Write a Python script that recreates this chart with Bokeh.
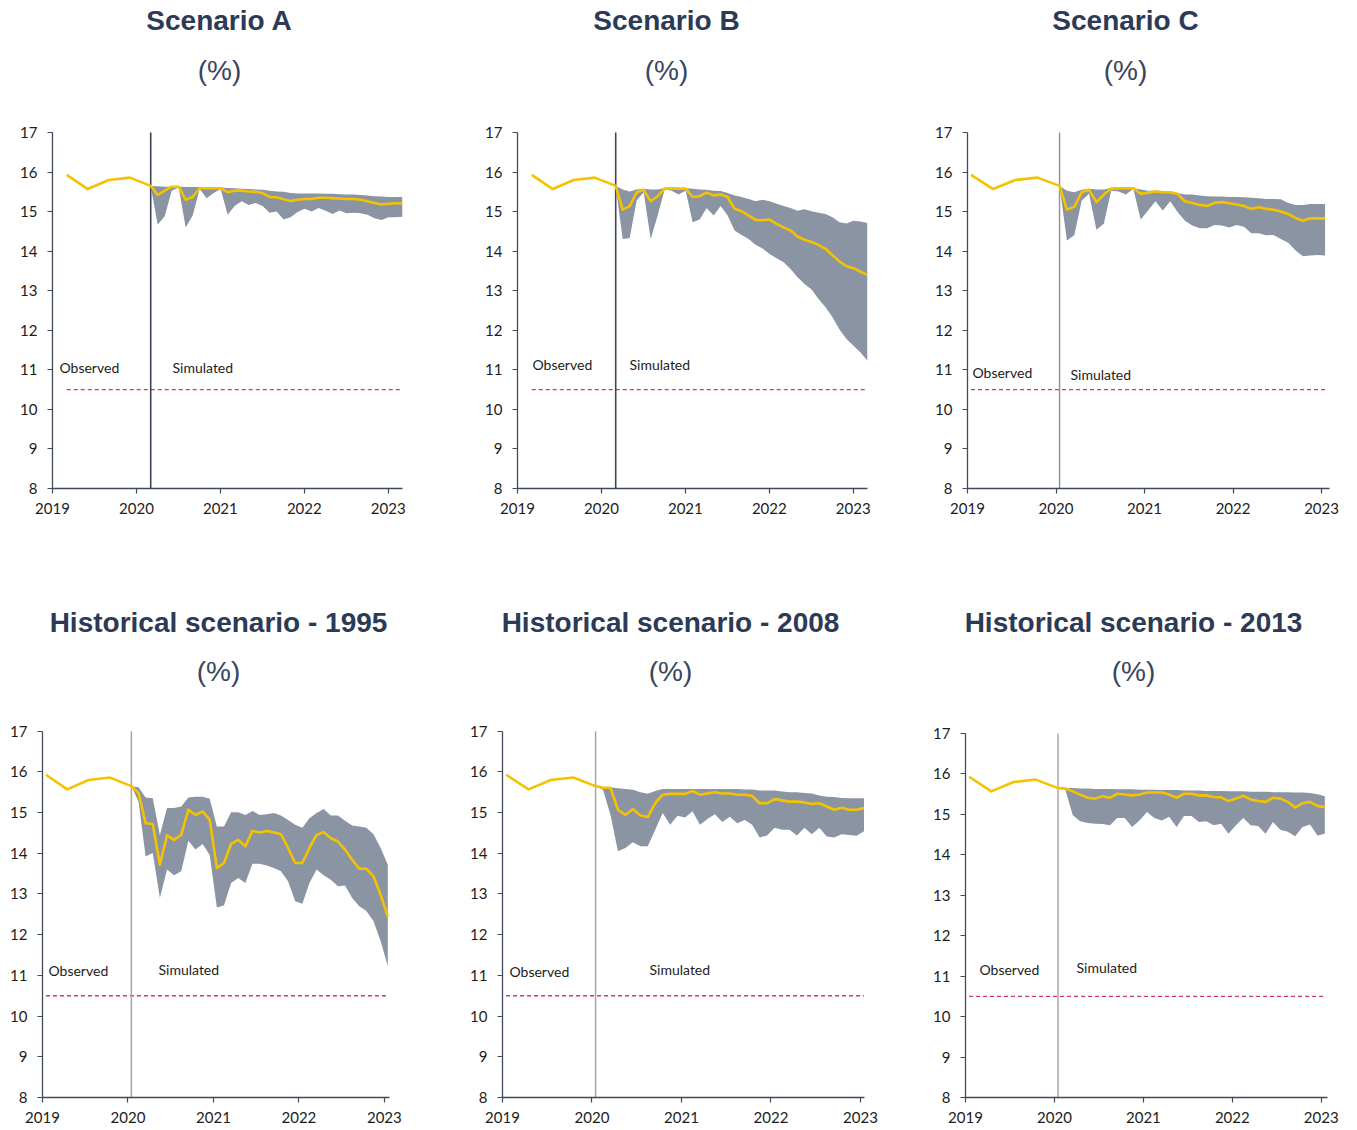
from bokeh.plotting import figure
from bokeh.layouts import column, row
from bokeh.models import Label, FixedTicker, Range1d
from bokeh.embed import file_html
from bokeh.resources import INLINE

# ---------------- data ----------------
year_ticks = [2019, 2020, 2021, 2022, 2023]
y_ticks = [8, 9, 10, 11, 12, 13, 14, 15, 16, 17]
obs_t = [0.0, 0.25, 0.5, 0.75, 1.0]             # years after first observation (quarterly)
observed = [15.93, 15.57, 15.80, 15.86, 15.65]
sim_t = [1.0 + m / 12 for m in range(37)]        # monthly simulation dates
threshold = 10.5

a_mid = [15.65, 15.42, 15.53, 15.63, 15.63, 15.30, 15.37, 15.59, 15.59, 15.59, 15.59, 15.49, 15.53, 15.53, 15.51, 15.50, 15.47, 15.37, 15.36, 15.31, 15.27, 15.30, 15.32, 15.32, 15.35, 15.35, 15.34, 15.33, 15.32, 15.32, 15.30, 15.26, 15.22, 15.18, 15.20, 15.21, 15.21]
a_hi = [15.65, 15.64, 15.63, 15.63, 15.63, 15.62, 15.62, 15.62, 15.62, 15.62, 15.61, 15.60, 15.59, 15.58, 15.57, 15.56, 15.55, 15.53, 15.51, 15.50, 15.47, 15.46, 15.46, 15.46, 15.46, 15.45, 15.45, 15.44, 15.43, 15.43, 15.42, 15.41, 15.39, 15.38, 15.37, 15.37, 15.37]
a_lo = [15.65, 14.67, 14.88, 15.53, 15.61, 14.60, 14.90, 15.57, 15.34, 15.47, 15.57, 14.92, 15.14, 15.26, 15.17, 15.22, 15.14, 14.97, 15.00, 14.80, 14.86, 14.99, 15.07, 15.00, 15.09, 15.02, 14.94, 15.03, 14.96, 14.97, 14.96, 14.92, 14.83, 14.79, 14.86, 14.86, 14.87]

b_mid = [15.65, 15.05, 15.14, 15.49, 15.55, 15.26, 15.39, 15.58, 15.58, 15.58, 15.58, 15.37, 15.39, 15.48, 15.41, 15.43, 15.37, 15.07, 15.01, 14.90, 14.79, 14.78, 14.80, 14.69, 14.60, 14.52, 14.37, 14.29, 14.23, 14.16, 14.06, 13.90, 13.74, 13.62, 13.57, 13.48, 13.40]
b_hi = [15.65, 15.56, 15.51, 15.56, 15.58, 15.56, 15.56, 15.60, 15.61, 15.60, 15.59, 15.58, 15.56, 15.55, 15.53, 15.52, 15.47, 15.41, 15.37, 15.32, 15.26, 15.30, 15.26, 15.20, 15.14, 15.09, 15.02, 15.06, 15.01, 14.97, 14.94, 14.86, 14.73, 14.70, 14.77, 14.75, 14.71]
b_lo = [15.65, 14.31, 14.33, 15.28, 15.49, 14.31, 14.90, 15.56, 15.53, 15.43, 15.53, 14.73, 14.80, 15.09, 14.90, 15.14, 14.90, 14.52, 14.41, 14.31, 14.16, 14.07, 13.93, 13.82, 13.72, 13.55, 13.34, 13.17, 13.03, 12.79, 12.58, 12.33, 12.02, 11.78, 11.61, 11.44, 11.23]

c_mid = [15.65, 15.05, 15.12, 15.49, 15.55, 15.24, 15.43, 15.58, 15.59, 15.59, 15.59, 15.45, 15.48, 15.51, 15.49, 15.49, 15.45, 15.26, 15.22, 15.17, 15.14, 15.22, 15.24, 15.21, 15.18, 15.14, 15.07, 15.11, 15.07, 15.05, 15.00, 14.94, 14.84, 14.77, 14.83, 14.83, 14.83]
c_hi = [15.65, 15.53, 15.49, 15.55, 15.58, 15.56, 15.56, 15.60, 15.61, 15.61, 15.60, 15.56, 15.53, 15.53, 15.52, 15.51, 15.47, 15.43, 15.43, 15.41, 15.39, 15.38, 15.38, 15.37, 15.37, 15.36, 15.35, 15.34, 15.32, 15.32, 15.31, 15.22, 15.17, 15.17, 15.19, 15.19, 15.19]
c_lo = [15.65, 14.27, 14.40, 15.28, 15.45, 14.54, 14.69, 15.53, 15.51, 15.43, 15.58, 14.80, 15.03, 15.26, 15.03, 15.26, 14.99, 14.77, 14.65, 14.58, 14.58, 14.66, 14.65, 14.60, 14.66, 14.62, 14.45, 14.45, 14.40, 14.41, 14.31, 14.21, 14.02, 13.87, 13.89, 13.90, 13.89]

d_mid = [15.65, 15.48, 14.74, 14.72, 13.72, 14.44, 14.33, 14.45, 15.07, 14.94, 15.03, 14.82, 13.64, 13.76, 14.23, 14.33, 14.17, 14.55, 14.51, 14.55, 14.51, 14.47, 14.13, 13.76, 13.76, 14.13, 14.45, 14.52, 14.37, 14.29, 14.09, 13.84, 13.62, 13.62, 13.43, 12.98, 12.45]
d_hi = [15.65, 15.62, 15.37, 15.35, 14.45, 15.11, 15.11, 15.15, 15.37, 15.39, 15.39, 15.34, 14.66, 14.66, 15.01, 15.01, 14.94, 15.04, 14.94, 14.96, 14.99, 14.93, 14.82, 14.70, 14.63, 14.86, 14.99, 15.09, 14.93, 14.93, 14.80, 14.68, 14.66, 14.63, 14.47, 14.13, 13.72]
d_lo = [15.65, 15.27, 13.92, 14.01, 12.90, 13.60, 13.46, 13.56, 14.31, 14.09, 14.23, 13.96, 12.67, 12.72, 13.27, 13.39, 13.27, 13.74, 13.74, 13.70, 13.64, 13.56, 13.31, 12.82, 12.76, 13.27, 13.60, 13.46, 13.35, 13.19, 13.21, 12.90, 12.70, 12.58, 12.33, 11.84, 11.23]

e_mid = [15.65, 15.61, 15.61, 15.07, 14.94, 15.09, 14.93, 14.89, 15.23, 15.44, 15.46, 15.46, 15.46, 15.53, 15.44, 15.47, 15.50, 15.47, 15.47, 15.44, 15.44, 15.41, 15.23, 15.23, 15.33, 15.30, 15.27, 15.27, 15.25, 15.21, 15.23, 15.15, 15.07, 15.12, 15.07, 15.07, 15.11]
e_hi = [15.65, 15.63, 15.62, 15.60, 15.58, 15.56, 15.50, 15.46, 15.53, 15.58, 15.58, 15.58, 15.58, 15.58, 15.58, 15.58, 15.58, 15.58, 15.58, 15.58, 15.57, 15.57, 15.54, 15.54, 15.54, 15.52, 15.50, 15.50, 15.48, 15.47, 15.42, 15.39, 15.38, 15.36, 15.35, 15.35, 15.35]
e_lo = [15.65, 15.56, 14.94, 14.05, 14.13, 14.27, 14.17, 14.17, 14.58, 14.99, 14.70, 14.92, 14.88, 15.03, 14.70, 14.84, 14.96, 14.77, 14.90, 14.74, 14.82, 14.70, 14.39, 14.44, 14.63, 14.58, 14.58, 14.44, 14.63, 14.47, 14.63, 14.41, 14.39, 14.47, 14.45, 14.43, 14.54]

f_mid = [15.65, 15.64, 15.57, 15.49, 15.41, 15.39, 15.45, 15.41, 15.51, 15.49, 15.47, 15.49, 15.54, 15.54, 15.54, 15.49, 15.41, 15.51, 15.51, 15.47, 15.47, 15.43, 15.42, 15.33, 15.39, 15.46, 15.37, 15.33, 15.31, 15.41, 15.39, 15.31, 15.17, 15.28, 15.31, 15.21, 15.18]
f_hi = [15.65, 15.65, 15.65, 15.64, 15.64, 15.63, 15.63, 15.63, 15.62, 15.62, 15.62, 15.61, 15.61, 15.61, 15.60, 15.60, 15.60, 15.59, 15.59, 15.59, 15.58, 15.58, 15.58, 15.57, 15.57, 15.57, 15.56, 15.56, 15.56, 15.55, 15.55, 15.55, 15.54, 15.54, 15.53, 15.50, 15.45]
f_lo = [15.65, 15.60, 14.98, 14.83, 14.79, 14.77, 14.76, 14.73, 14.91, 14.91, 14.69, 14.85, 15.06, 14.91, 14.85, 14.94, 14.69, 14.96, 14.96, 14.81, 14.83, 14.73, 14.77, 14.52, 14.73, 14.91, 14.73, 14.71, 14.52, 14.81, 14.62, 14.57, 14.46, 14.69, 14.75, 14.48, 14.52]

# ---------------- style / layout ----------------
YELLOW = "#f4c300"
BAND = "#8a94a3"
AXIS = "#3f4a5a"
RED = "#d23a5c"
TITLE_C = "#2c3a56"
TICK_FONT = "Lato"
TITLE_FONT = "Liberation Sans"

# frame geometry in page pixels: fl/fr = left/right of plot area, y17/y8 = pixel rows of 17 and 8
panels = [
    dict(title="Scenario A", mid=a_mid, hi=a_hi, lo=a_lo, shift=0.17, xend=2023.17,
         fig_x=0, fig_y=0, w=460, h=560, fl=52, fr=402, y17=132, y8=488,
         vcol="#3c4452", vw=1.6, tpos=(219, 20, 70), obs=(59, 367), sim=(172, 367), xs=9),
    dict(title="Scenario B", mid=b_mid, hi=b_hi, lo=b_lo, shift=0.17, xend=2023.17,
         fig_x=460, fig_y=0, w=455, h=560, fl=517, fr=867, y17=132, y8=488,
         vcol="#3c4452", vw=1.6, tpos=(666, 20, 70), obs=(532, 364), sim=(629, 364), xs=9),
    dict(title="Scenario C", mid=c_mid, hi=c_hi, lo=c_lo, shift=0.04, xend=2023.09,
         fig_x=915, fig_y=0, w=441, h=560, fl=967, fr=1329, y17=132, y8=488,
         vcol="#8c8f95", vw=1.4, tpos=(1125, 20, 70), obs=(972, 372), sim=(1070, 374), xs=9),
    dict(title="Historical scenario - 1995", mid=d_mid, hi=d_hi, lo=d_lo, shift=0.04, xend=2023.06,
         fig_x=0, fig_y=560, w=455, h=570, fl=42, fr=389, y17=731, y8=1098,
         vcol="#a5a7ab", vw=1.5, tpos=(218, 622, 671), obs=(48, 971), sim=(158, 970), xs=9),
    dict(title="Historical scenario - 2008", mid=e_mid, hi=e_hi, lo=e_lo, shift=0.04, xend=2023.045,
         fig_x=455, fig_y=560, w=460, h=570, fl=502, fr=864, y17=731, y8=1098,
         vcol="#a5a7ab", vw=1.5, tpos=(670, 622, 671), obs=(509, 972), sim=(649, 970), xs=9),
    dict(title="Historical scenario - 2013", mid=f_mid, hi=f_hi, lo=f_lo, shift=0.04, xend=2023.07,
         fig_x=915, fig_y=560, w=441, h=570, fl=965, fr=1327, y17=733, y8=1097,
         vcol="#a5a7ab", vw=1.5, tpos=(1133, 622, 671), obs=(979, 969), sim=(1076, 967), xs=9),
]


def make_panel(c):
    unit = (c["y8"] - c["y17"]) / (y_ticks[-1] - y_ticks[0])
    y_top = y_ticks[0] + (c["y8"] - c["fig_y"]) / unit
    p = figure(width=c["w"], height=c["h"], x_range=Range1d(year_ticks[0], c["xend"]),
               y_range=Range1d(y_ticks[0], y_top),
               output_backend="svg", toolbar_location=None,
               min_border_left=c["fl"] - c["fig_x"], min_border_right=c["fig_x"] + c["w"] - c["fr"],
               min_border_top=0, min_border_bottom=c["fig_y"] + c["h"] - c["y8"])
    p.outline_line_color = None
    p.grid.visible = False
    p.background_fill_color = "white"
    p.border_fill_color = "white"

    def to_data(px, py):
        x = year_ticks[0] + (px - c["fl"]) / (c["fr"] - c["fl"]) * (c["xend"] - year_ticks[0])
        y = y_ticks[0] + (c["y8"] - py) / unit
        return x, y

    x_obs = [year_ticks[0] + c["shift"] + t for t in obs_t]
    x_sim = [year_ticks[0] + c["shift"] + t for t in sim_t]

    p.varea(x=x_sim, y1=c["lo"], y2=c["hi"], fill_color=BAND, fill_alpha=1.0)
    p.line([x_obs[0], x_sim[-1]], [threshold, threshold], line_color=RED, line_width=1.4,
           line_dash="4 3")
    p.line([x_obs[-1], x_obs[-1]], [y_ticks[0], y_ticks[-1]], line_color=c["vcol"],
           line_width=c["vw"])
    p.line(x_obs + x_sim[1:], observed + c["mid"][1:], line_color=YELLOW, line_width=2.6,
           line_join="round")

    for ax in (p.xaxis[0], p.yaxis[0]):
        ax.axis_line_color = AXIS
        ax.axis_line_width = 1.3
        ax.major_tick_line_color = AXIS
        ax.major_tick_line_width = 1.2
        ax.minor_tick_line_color = None
        ax.major_tick_out = 5
        ax.major_tick_in = 0
        ax.major_label_text_font = TICK_FONT
        ax.major_label_text_font_size = "15px"
        ax.major_label_text_color = "#1c1c1c"
    p.xaxis.ticker = FixedTicker(ticks=year_ticks)
    p.yaxis.ticker = FixedTicker(ticks=y_ticks)
    p.yaxis.bounds = (y_ticks[0], y_ticks[-1])
    p.xaxis.major_label_standoff = c["xs"]
    p.yaxis.major_label_standoff = 10

    tx, ty, sy = c["tpos"]
    x1, y1 = to_data(tx, ty)
    x2, y2 = to_data(tx, sy)
    p.add_layout(Label(x=x1, y=y1, text=c["title"], text_align="center", text_baseline="middle",
                       text_font=TITLE_FONT, text_font_size="28px", text_font_style="bold",
                       text_color=TITLE_C))
    p.add_layout(Label(x=x2, y=y2, text="(%)", text_align="center", text_baseline="middle",
                       text_font=TITLE_FONT, text_font_size="28px",
                       text_color="#3a4660"))

    ox, oy = to_data(*c["obs"])
    sx, sy2 = to_data(*c["sim"])
    for (lx, ly, t) in ((ox, oy, "Observed"), (sx, sy2, "Simulated")):
        p.add_layout(Label(x=lx, y=ly, text=t, text_align="left", text_baseline="middle",
                           text_font=TICK_FONT, text_font_size="14px",
                           text_color="#1c1c1c"))
    return p


figs = [make_panel(c) for c in panels]
layout = column(row(*figs[:3], spacing=0), row(*figs[3:], spacing=0), spacing=0)

open("out.html", "w").write(file_html(layout, INLINE))
